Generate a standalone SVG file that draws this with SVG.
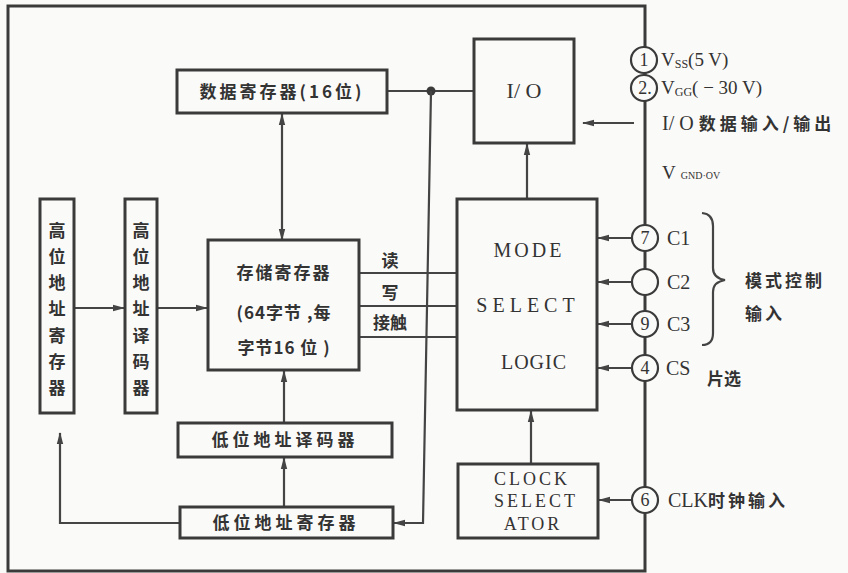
<svg xmlns="http://www.w3.org/2000/svg" width="848" height="573" viewBox="0 0 848 573">
<style>
.bg{fill:#fafaf8}
.box{fill:none;stroke:#3a3a3a;stroke-width:3}
.ln{fill:none;stroke:#444;stroke-width:2.2}
.cj{font-family:"Noto Sans CJK SC",sans-serif;font-weight:bold;fill:#333}
.lt{font-family:"Liberation Serif",serif;fill:#333}
.pin{fill:#fafaf8;stroke:#3a3a3a;stroke-width:2.2}
.num{font-family:"Liberation Serif",serif;fill:#333;text-anchor:middle}
</style>
<defs>
<marker id="ah" markerUnits="userSpaceOnUse" markerWidth="12" markerHeight="8" refX="11" refY="4" orient="auto-start-reverse">
<path d="M0,0.8 L12,4 L0,7.2 z" fill="#444"/>
</marker>
</defs>
<rect class="bg" x="0" y="0" width="848" height="573"/>
<rect class="box" x="8" y="6" width="637" height="565"/>

<g id="connectors">
<line class="ln" x1="282" y1="240" x2="282" y2="114" marker-end="url(#ah)" marker-start="url(#ah)"/>
<line class="ln" x1="387" y1="91" x2="474" y2="91"/>
<circle cx="431" cy="91" r="4.5" fill="#3a3a3a"/>
<polyline class="ln" points="431,91 423,523 394,523" marker-end="url(#ah)"/>
<line class="ln" x1="527" y1="199" x2="527" y2="144" marker-end="url(#ah)"/>
<line class="ln" x1="634" y1="123" x2="583" y2="123" marker-end="url(#ah)"/>
<line class="ln" x1="74" y1="308" x2="124" y2="308" marker-end="url(#ah)"/>
<line class="ln" x1="157" y1="308" x2="207" y2="308" marker-end="url(#ah)"/>
<line class="ln" x1="359" y1="273" x2="457" y2="273"/>
<line class="ln" x1="359" y1="306" x2="457" y2="306"/>
<line class="ln" x1="359" y1="337" x2="457" y2="337"/>
<line class="ln" x1="284" y1="507" x2="284" y2="458" marker-end="url(#ah)"/>
<line class="ln" x1="284" y1="423" x2="284" y2="371" marker-end="url(#ah)"/>
<polyline class="ln" points="180,523 60,523 60,433" marker-end="url(#ah)"/>
<line class="ln" x1="531" y1="464" x2="531" y2="411" marker-end="url(#ah)"/>
<line class="ln" x1="632" y1="238" x2="598" y2="238" marker-end="url(#ah)"/>
<line class="ln" x1="632" y1="282" x2="598" y2="282" marker-end="url(#ah)"/>
<line class="ln" x1="632" y1="324" x2="598" y2="324" marker-end="url(#ah)"/>
<line class="ln" x1="632" y1="368" x2="598" y2="368" marker-end="url(#ah)"/>
<line class="ln" x1="632" y1="500" x2="599" y2="500" marker-end="url(#ah)"/>
</g>

<g id="data-reg">
<rect class="box" x="177" y="70" width="210" height="43"/>
<text class="cj" x="282" y="98" text-anchor="middle" style="font-size:17px;letter-spacing:3px">数据寄存器(16位)</text>
</g>
<g id="io">
<rect class="box" x="474" y="39" width="100" height="104"/>
<text class="lt" x="524" y="98" text-anchor="middle" style="font-size:22px">I/ O</text>
</g>
<g id="high-reg">
<rect class="box" x="40" y="199" width="34" height="214"/>
<g class="cj" text-anchor="middle" style="font-size:17px">
<text x="57" y="237">高</text><text x="57" y="263">位</text><text x="57" y="289">地</text><text x="57" y="315">址</text><text x="57" y="342">寄</text><text x="57" y="368">存</text><text x="57" y="394">器</text>
</g>
</g>
<g id="high-dec">
<rect class="box" x="125" y="199" width="32" height="214"/>
<g class="cj" text-anchor="middle" style="font-size:17px">
<text x="141" y="237">高</text><text x="141" y="263">位</text><text x="141" y="289">地</text><text x="141" y="315">址</text><text x="141" y="342">译</text><text x="141" y="368">码</text><text x="141" y="394">器</text>
</g>
</g>
<g id="storage">
<rect class="box" x="208" y="240" width="151" height="130"/>
<text class="cj" x="284" y="279" text-anchor="middle" style="font-size:17px;letter-spacing:2px">存储寄存器</text>
<text class="cj" x="284" y="319" text-anchor="middle" style="font-size:17px;letter-spacing:1px">(64字节 ,每</text>
<text class="cj" x="284" y="354" text-anchor="middle" style="font-size:17px;letter-spacing:1px">字节16 位 )</text>
</g>
<g id="rw-labels">
<text class="cj" x="390" y="267" text-anchor="middle" style="font-size:17px">读</text>
<text class="cj" x="390" y="299" text-anchor="middle" style="font-size:17px">写</text>
<text class="cj" x="390" y="329" text-anchor="middle" style="font-size:17px">接触</text>
</g>
<g id="mode">
<rect class="box" x="457" y="199" width="140" height="211"/>
<text class="lt" x="529" y="257" text-anchor="middle" style="font-size:20px;letter-spacing:3px">MODE</text>
<text class="lt" x="528" y="312" text-anchor="middle" style="font-size:20px;letter-spacing:5px">SELECT</text>
<text class="lt" x="534" y="369" text-anchor="middle" style="font-size:20px;letter-spacing:1px">LOGIC</text>
</g>
<g id="low-dec">
<rect class="box" x="178" y="423" width="214" height="34"/>
<text class="cj" x="285" y="446" text-anchor="middle" style="font-size:17px;letter-spacing:4px">低位地址译码器</text>
</g>
<g id="low-reg">
<rect class="box" x="180" y="507" width="213" height="31"/>
<text class="cj" x="286" y="529" text-anchor="middle" style="font-size:17px;letter-spacing:4px">低位地址寄存器</text>
</g>
<g id="clock">
<rect class="box" x="458" y="464" width="140" height="74"/>
<text class="lt" x="532" y="485" text-anchor="middle" style="font-size:18px;letter-spacing:3px">CLOCK</text>
<text class="lt" x="536" y="507" text-anchor="middle" style="font-size:18px;letter-spacing:3px">SELECT</text>
<text class="lt" x="533" y="530" text-anchor="middle" style="font-size:18px;letter-spacing:3px">ATOR</text>
</g>

<g id="pins">
<circle class="pin" cx="644" cy="60" r="13"/><text class="num" x="644" y="66" style="font-size:18px">1</text>
<circle class="pin" cx="644" cy="88" r="13"/><text class="num" x="645" y="94" style="font-size:18px">2.</text>
<circle class="pin" cx="645" cy="238" r="13"/><text class="num" x="645" y="244" style="font-size:18px">7</text>
<circle class="pin" cx="645" cy="282" r="13"/>
<circle class="pin" cx="645" cy="324" r="13"/><text class="num" x="645" y="330" style="font-size:18px">9</text>
<circle class="pin" cx="645" cy="368" r="13"/><text class="num" x="645" y="374" style="font-size:18px">4</text>
<circle class="pin" cx="645" cy="500" r="13"/><text class="num" x="645" y="506" style="font-size:18px">6</text>
</g>

<g id="pin-labels">
<text class="lt" x="661" y="66" style="font-size:19px">V<tspan style="font-size:12px" dy="2">SS</tspan><tspan dy="-2">(5 V)</tspan></text>
<text class="lt" x="661" y="94" style="font-size:19px">V<tspan style="font-size:12px" dy="2">GG</tspan><tspan dy="-2">( − 30 V)</tspan></text>
<text x="662" y="130"><tspan class="lt" style="font-size:20px">I/ O </tspan><tspan class="cj" style="font-size:17px;letter-spacing:4px">数据输入/输出</tspan></text>
<text class="lt" x="662" y="179" style="font-size:19px">V<tspan style="font-size:10px" dx="5">GND·OV</tspan></text>
<text class="lt" x="667" y="245" style="font-size:20px">C1</text>
<text class="lt" x="667" y="289" style="font-size:20px">C2</text>
<text class="lt" x="667" y="331" style="font-size:20px">C3</text>
<text class="lt" x="666" y="375" style="font-size:20px">CS</text>
<text class="cj" x="707" y="385" style="font-size:17px">片选</text>
<path class="ln" d="M702,213 Q713,214 713,226 L713,268 Q713,278 725,280 Q713,282 713,292 L713,333 Q713,345 702,345"/>
<text class="cj" x="745" y="287" style="font-size:17px;letter-spacing:3px">模式控制</text>
<text class="cj" x="745" y="320" style="font-size:17px;letter-spacing:3px">输入</text>
<text x="668" y="507"><tspan class="lt" style="font-size:20px">CLK</tspan><tspan class="cj" style="font-size:17px;letter-spacing:3px">时钟输入</tspan></text>
</g>
</svg>
